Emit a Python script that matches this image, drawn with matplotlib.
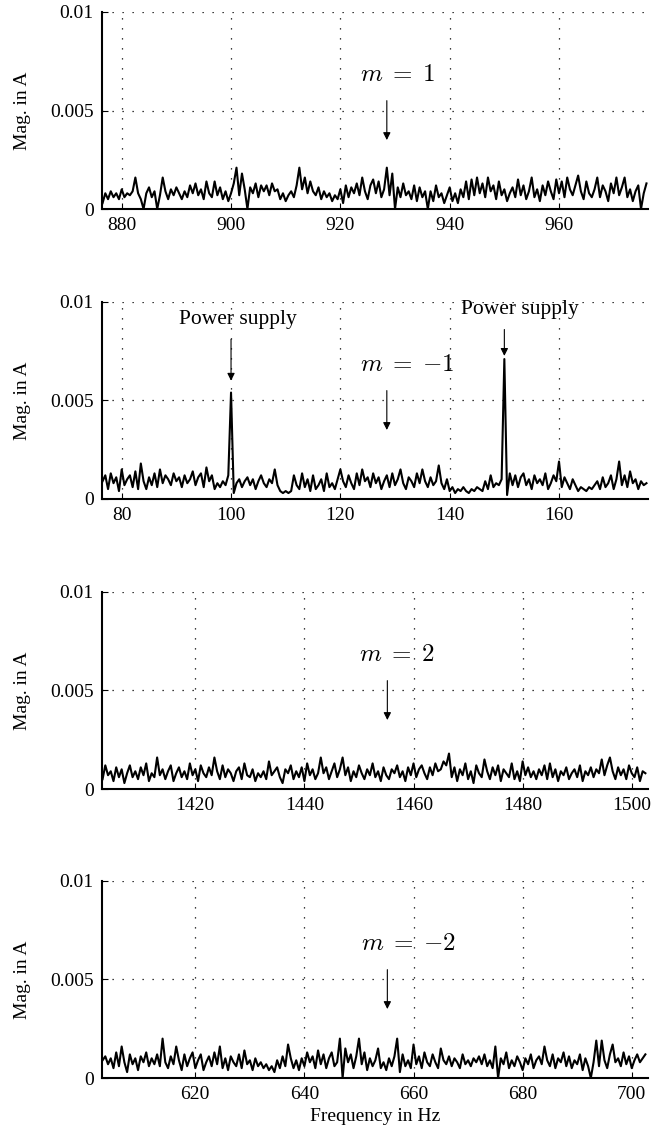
import numpy as np
import matplotlib
matplotlib.use('Agg')
import matplotlib.pyplot as plt

plt.rcParams['font.family'] = ['Liberation Serif', 'DejaVu Serif']
plt.rcParams['mathtext.fontset'] = 'cm'

# spectra, magnitudes in units of 1e-4 A, sampled every 0.5 Hz
f1_start = 876.5
mag1 = [3, 8, 5, 9, 6, 8, 5, 10, 6, 8, 7, 9, 16, 8, 5, 0, 8, 11, 6, 9,
        0, 7, 16, 9, 5, 10, 7, 11, 8, 5, 9, 6, 12, 8, 13, 7, 10, 5, 14, 8,
        6, 14, 7, 11, 5, 9, 4, 8, 13, 21, 7, 18, 10, 0, 11, 8, 13, 6, 12, 9,
        12, 7, 13, 9, 10, 5, 8, 4, 7, 9, 6, 12, 21, 10, 16, 8, 14, 9, 7, 11,
        5, 9, 6, 8, 4, 7, 5, 10, 3, 12, 6, 11, 8, 13, 7, 16, 9, 5, 12, 15,
        8, 14, 6, 10, 21, 7, 18, 0, 11, 6, 13, 7, 9, 5, 12, 4, 11, 6, 9, 0,
        9, 4, 12, 6, 8, 3, 7, 11, 4, 8, 3, 10, 6, 14, 5, 15, 7, 16, 8, 13,
        6, 16, 9, 12, 5, 14, 7, 10, 4, 8, 11, 6, 15, 7, 12, 5, 9, 16, 6, 10,
        4, 12, 7, 14, 9, 5, 15, 8, 14, 6, 16, 10, 7, 12, 17, 9, 5, 14, 8, 6,
        10, 16, 6, 12, 9, 4, 13, 8, 16, 7, 11, 16, 6, 10, 4, 9, 12, 0, 8, 13]

f2_start = 76.5
mag2 = [9, 12, 5, 13, 8, 11, 4, 15, 7, 10, 12, 6, 14, 5, 18, 9, 5, 11, 7, 13,
        6, 15, 8, 12, 10, 7, 13, 9, 11, 6, 12, 8, 10, 14, 7, 11, 13, 6, 16, 9,
        12, 5, 8, 6, 9, 7, 12, 54, 3, 8, 10, 6, 9, 11, 7, 10, 5, 9, 12, 8,
        6, 10, 8, 15, 7, 4, 3, 4, 3, 4, 12, 7, 5, 13, 6, 10, 4, 12, 5, 7,
        10, 4, 13, 6, 8, 5, 10, 15, 9, 6, 12, 8, 5, 13, 7, 15, 9, 11, 6, 13,
        8, 11, 5, 9, 12, 6, 13, 7, 10, 15, 8, 5, 11, 9, 6, 13, 8, 15, 9, 6,
        11, 7, 9, 17, 8, 5, 10, 4, 6, 3, 5, 4, 6, 4, 3, 5, 4, 6, 5, 4,
        9, 5, 12, 6, 8, 7, 10, 71, 2, 13, 7, 12, 6, 11, 13, 7, 10, 5, 12, 8,
        10, 7, 13, 5, 8, 12, 9, 19, 6, 11, 8, 5, 10, 7, 4, 6, 5, 4, 6, 5,
        7, 9, 5, 11, 6, 8, 12, 5, 10, 19, 7, 12, 6, 14, 8, 10, 5, 9, 7, 8]

f3_start = 1403.0
mag3 = [5, 12, 7, 9, 4, 11, 6, 10, 3, 8, 12, 6, 9, 5, 11, 7, 13, 4, 8, 6,
        16, 7, 10, 5, 9, 12, 4, 8, 11, 6, 9, 5, 13, 7, 10, 4, 12, 8, 6, 11,
        7, 16, 9, 5, 12, 6, 10, 8, 4, 9, 11, 5, 13, 7, 6, 10, 4, 8, 6, 9,
        5, 14, 7, 9, 11, 6, 3, 10, 8, 12, 5, 9, 6, 11, 4, 13, 7, 10, 5, 8,
        16, 8, 11, 5, 9, 13, 6, 10, 16, 7, 11, 4, 9, 6, 12, 8, 5, 10, 7, 13,
        6, 9, 4, 11, 7, 5, 10, 8, 12, 6, 9, 4, 11, 7, 13, 6, 10, 12, 8, 5,
        11, 7, 13, 9, 10, 14, 12, 18, 6, 11, 4, 10, 7, 13, 5, 9, 3, 12, 8, 6,
        15, 9, 5, 11, 7, 12, 4, 10, 8, 6, 13, 5, 9, 4, 14, 7, 11, 6, 9, 5,
        10, 7, 12, 5, 13, 6, 10, 4, 9, 7, 11, 5, 8, 10, 6, 12, 4, 9, 7, 11,
        6, 10, 8, 15, 7, 12, 16, 9, 5, 11, 7, 10, 5, 12, 8, 6, 11, 4, 9, 8]

f4_start = 603.0
mag4 = [9, 11, 7, 10, 5, 13, 6, 16, 8, 3, 12, 7, 10, 4, 11, 8, 13, 6, 10, 7,
        12, 6, 20, 8, 5, 11, 7, 16, 9, 4, 12, 6, 10, 13, 5, 9, 12, 4, 8, 11,
        6, 13, 7, 16, 5, 10, 4, 11, 8, 6, 12, 5, 14, 7, 9, 4, 10, 6, 8, 5,
        7, 4, 6, 3, 9, 5, 11, 6, 17, 10, 5, 9, 4, 10, 6, 13, 8, 11, 5, 14,
        7, 12, 5, 10, 13, 6, 8, 20, 0, 15, 8, 12, 5, 11, 20, 7, 13, 4, 10, 6,
        9, 15, 5, 8, 4, 10, 6, 11, 20, 3, 12, 6, 9, 5, 17, 7, 11, 5, 13, 8,
        6, 12, 8, 5, 15, 9, 7, 11, 6, 10, 8, 5, 12, 7, 9, 6, 10, 8, 11, 7,
        12, 6, 9, 5, 16, 0, 10, 7, 13, 5, 9, 6, 11, 8, 4, 10, 7, 12, 5, 9,
        11, 7, 16, 9, 6, 12, 5, 10, 8, 13, 6, 11, 5, 9, 7, 12, 4, 10, 6, 0,
        8, 19, 6, 19, 9, 5, 12, 17, 8, 10, 6, 13, 7, 11, 5, 9, 12, 8, 10, 12]

xlims = [(876.4, 976.3), (76.4, 176.3), (1402.9, 1503.0), (602.9, 703.0)]
xticks = [[880, 900, 920, 940, 960], [80, 100, 120, 140, 160],
          [1420, 1440, 1460, 1480, 1500], [620, 640, 660, 680, 700]]
m_labels = [r'$m\;=\;1$', r'$m\;=\;{-1}$', r'$m\;=\;2$', r'$m\;=\;{-2}$']
m_arrow_x = [928.5, 128.5, 1455.2, 655.2]
m_text_x = [930.5, 132.3, 1457.0, 659.0]
supply_freqs = [100, 150]
supply_text_x = [101.2, 152.8]
supply_text_y = [0.0091, 0.0096]
supply_arrow_top = [0.0081, 0.0086]
supply_arrow_tip = [0.0060, 0.00726]

starts = [f1_start, f2_start, f3_start, f4_start]
mags = [mag1, mag2, mag3, mag4]

fig = plt.figure(figsize=(6.54, 11.41), dpi=100)
bottoms = [0.8168, 0.5627, 0.3085, 0.0552]
arrowprops = dict(arrowstyle='-|>', color='k', lw=0.8,
                  mutation_scale=11, shrinkA=0, shrinkB=0)

for k in range(4):
    ax = fig.add_axes([0.156, bottoms[k], 0.835, 0.1727])
    y = np.array(mags[k]) * 1e-4
    x = starts[k] + 0.5 * np.arange(len(y))
    ax.plot(x, y, color='k', lw=1.5)
    ax.set_xlim(*xlims[k])
    ax.set_ylim(0, 0.01)
    ax.set_xticks(xticks[k])
    ax.set_yticks([0, 0.005, 0.01])
    ax.set_yticklabels(['0', '0.005', '0.01'])
    ax.grid(True, linestyle=(0, (1, 7)), color='k', lw=0.9)
    for s in ['top', 'right']:
        ax.spines[s].set_visible(False)
    for s in ['left', 'bottom']:
        ax.spines[s].set_linewidth(1.5)
    ax.tick_params(direction='in', length=4, labelsize=14, pad=6)
    ax.set_ylabel('Mag. in A', fontsize=14, labelpad=14)

    ax.text(m_text_x[k], 0.0068, m_labels[k], fontsize=18,
            ha='center', va='center')
    ax.annotate('', xy=(m_arrow_x[k], 0.0035), xytext=(m_arrow_x[k], 0.0055),
                arrowprops=arrowprops)

    if k == 1:
        for f, tx, ty, top, tip in zip(supply_freqs, supply_text_x, supply_text_y,
                                       supply_arrow_top, supply_arrow_tip):
            ax.text(tx, ty, 'Power supply', fontsize=15.5, ha='center', va='center')
            ax.annotate('', xy=(f, tip), xytext=(f, top), arrowprops=arrowprops)

    if k == 3:
        ax.set_xlabel('Frequency in Hz', fontsize=14, labelpad=3)

fig.savefig('out.png', dpi=100)
